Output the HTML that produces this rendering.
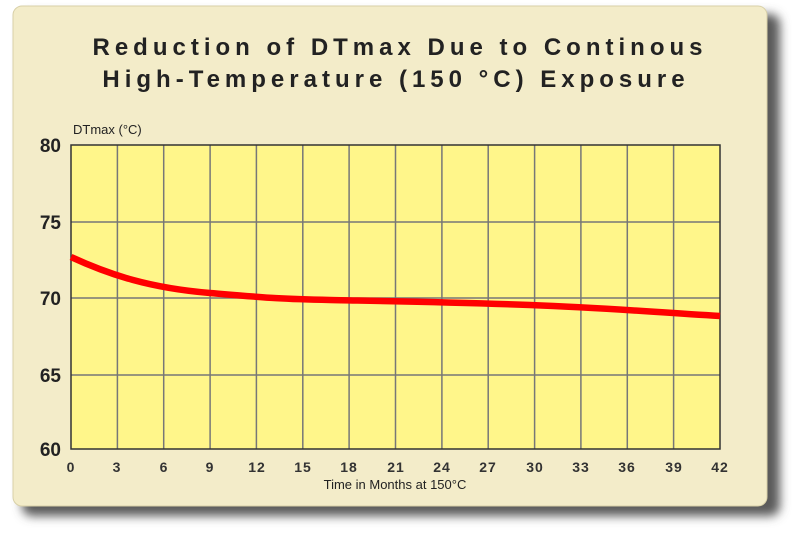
<!DOCTYPE html>
<html><head><style>
body{margin:0;background:#fff;width:800px;height:536px;overflow:hidden}
</style></head><body>
<svg width="800" height="536" xmlns="http://www.w3.org/2000/svg">
<defs><filter id="b" x="-5%" y="-5%" width="115%" height="115%"><feGaussianBlur stdDeviation="5"/></filter></defs>
<rect x="22" y="14" width="758" height="502" rx="10" fill="#5a5a5a" filter="url(#b)"/>
<rect x="13" y="6" width="754" height="500" rx="9" fill="#f3ecc9" stroke="#d8d0a8"/>
<g font-family="Liberation Sans, sans-serif" font-weight="bold" fill="#222" font-size="24" text-anchor="middle" letter-spacing="5">
<text x="400" y="55">Reduction of DTmax Due to Continous</text>
<text x="396" y="87">High-Temperature (150 °C) Exposure</text>
</g>
<rect x="71" y="145" width="649" height="304" fill="#fff68a"/>
<g stroke="#777" stroke-width="1.5">
<path d="M117.4 145V449M163.7 145V449M210.1 145V449M256.4 145V449M302.8 145V449M349.1 145V449M395.5 145V449M441.9 145V449M488.2 145V449M534.6 145V449M580.9 145V449M627.3 145V449M673.6 145V449"/>
<path d="M71 222H720M71 298H720M71 375H720"/>
</g>
<rect x="71" y="145" width="649" height="304" fill="none" stroke="#333" stroke-width="1.5"/>
<path d="M71 257 C110 275,150 288,210 293 S280 299,330 300 S450 302,530 305 S650 312,720 316" fill="none" stroke="#f00" stroke-width="6.5"/>
<g font-family="Liberation Sans, sans-serif" font-weight="bold" fill="#222" font-size="19" text-anchor="end">
<text x="61" y="152">80</text><text x="61" y="229">75</text><text x="61" y="305">70</text><text x="61" y="382">65</text><text x="61" y="456">60</text>
</g>
<text x="73" y="134" font-family="Liberation Sans, sans-serif" font-size="13" fill="#222">DTmax (°C)</text>
<g font-family="Liberation Sans, sans-serif" font-weight="bold" fill="#333" font-size="14" text-anchor="middle" letter-spacing="1">
<text x="71" y="472">0</text><text x="117" y="472">3</text><text x="164" y="472">6</text><text x="210" y="472">9</text><text x="257" y="472">12</text><text x="303" y="472">15</text><text x="349" y="472">18</text><text x="396" y="472">21</text><text x="442" y="472">24</text><text x="488" y="472">27</text><text x="535" y="472">30</text><text x="581" y="472">33</text><text x="627" y="472">36</text><text x="674" y="472">39</text><text x="720" y="472">42</text>
</g>
<text x="395" y="489" font-family="Liberation Sans, sans-serif" font-size="13" fill="#222" text-anchor="middle">Time in Months at 150°C</text>
</svg>
</body></html>
